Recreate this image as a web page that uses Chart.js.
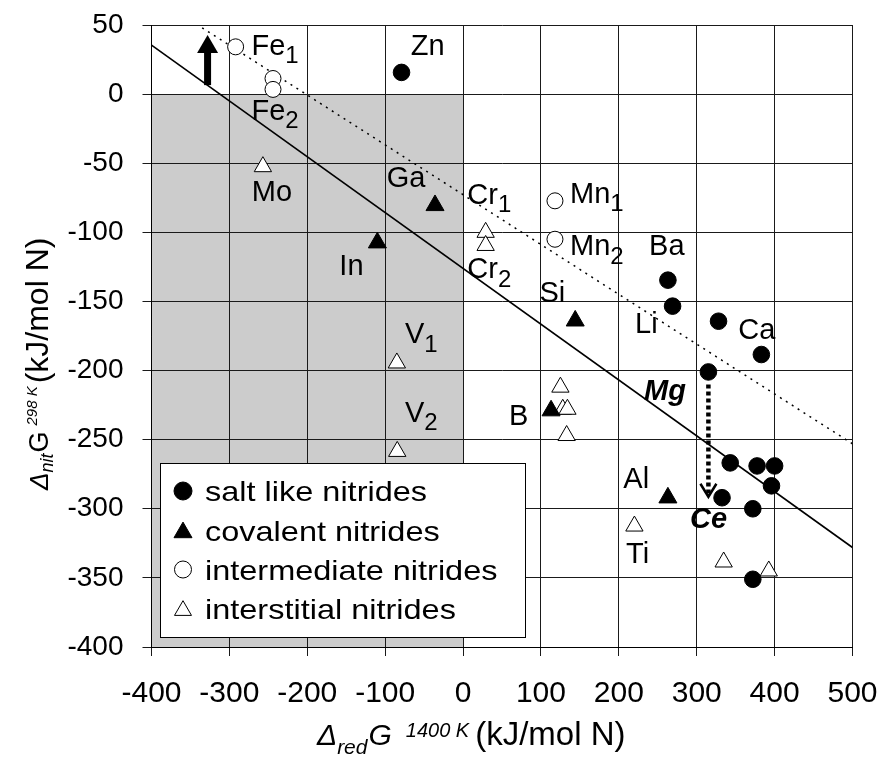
<!DOCTYPE html>
<html><head><meta charset="utf-8">
<script src="https://cdn.jsdelivr.net/npm/chart.js@4.4.1/dist/chart.umd.min.js"></script>
<style>html,body{margin:0;padding:0;background:#fff;}#wrap{width:883px;height:757px;}</style>
</head><body><div id="wrap"><canvas id="c" width="883" height="757"></canvas></div>
<script>
// ---------- data ----------
const xTicks = [-400, -300, -200, -100, 0, 100, 200, 300, 400, 500];
const yTicks = [50, 0, -50, -100, -150, -200, -250, -300, -350, -400];

const saltX = [-79, 263, 269, 328, 383, 315, 343, 377.5, 400, 396, 332.5, 372, 372];
const saltY = [15.7, -134.6, -153.4, -164.3, -188.4, -201, -266.8, -269, -269, -283.4, -292, -300, -351];

const covalentX = [-36, -110, 144, 113, 263];
const covalentY = [-80.5, -107.5, -164, -229, -292];

const intermediateX = [-292, -244, -244, 118, 118];
const intermediateY = [34.2, 11.3, 3.4, -77.2, -105];

const interstitialX = [-257, 29, 29, -85, -84.5, 125, 128, 134, 133, 220, 334.6, 392.5];
const interstitialY = [-52.5, -100, -109.5, -194.5, -258.5, -212, -228, -228, -247, -312.5, -338.5, -345];

const solidLineX = [-400, 500];
const solidLineY = [35.5, -328];
const dottedLineX = [-335, 500];
const dottedLineY = [48, -253];

const shadeBox = { x0: -400, x1: 0, y0: -400, y1: 0 };
const arrowUp = { x: -328, y0: 6.5, y1: 42.7 };
const arrowMgCe = { x: 315, y0: -210, y1: -291.3 };

const legendLabels = ['salt like nitrides', 'covalent nitrides', 'intermediate nitrides', 'interstitial nitrides'];

const pointLabels = [
  { t: 'Fe', s: '1', x: -271.6, y: 28.3 },
  { t: 'Fe', s: '2', x: -271.6, y: -18.7 },
  { t: 'Zn', x: -67.2, y: 28.3 },
  { t: 'Mo', x: -271.3, y: -77.1 },
  { t: 'Ga', x: -98, y: -67 },
  { t: 'In', x: -158.8, y: -130.9 },
  { t: 'Cr', s: '1', x: 5.5, y: -79.5 },
  { t: 'Cr', s: '2', x: 5.5, y: -133.3 },
  { t: 'Mn', s: '1', x: 137.4, y: -78.6 },
  { t: 'Mn', s: '2', x: 137.4, y: -116.4 },
  { t: 'Ba', x: 238.8, y: -116.4 },
  { t: 'Si', x: 98, y: -150.2 },
  { t: 'Li', x: 220.8, y: -173.1 },
  { t: 'Ca', x: 353.4, y: -177.4 },
  { t: 'Mg', x: 232.4, y: -221.3, b: true },
  { t: 'B', x: 59, y: -239.4 },
  { t: 'Al', x: 205.8, y: -285.2 },
  { t: 'Ti', x: 209.3, y: -339.5 },
  { t: 'Ce', x: 291.4, y: -314.1, b: true },
  { t: 'V', s: '1', x: -74.5, y: -180.3 },
  { t: 'V', s: '2', x: -74.5, y: -237 }
];

// ---------- helpers ----------
const FAM = "'Liberation Sans', Arial, Helvetica, sans-serif";
const f = (size, style) => (style ? style + ' ' : '') + size + 'px ' + FAM;
const pts = (xs, ys) => xs.map((x, i) => ({ x: x, y: ys[i] }));

function drawMarker(ctx, style, x, y, r, fill) {
  ctx.beginPath();
  if (style === 'circle') {
    ctx.arc(x, y, r, 0, Math.PI * 2);
  } else {
    for (let k = 0; k < 3; k++) {
      const a = k * 2 * Math.PI / 3;
      const px = x + Math.sin(a) * r, py = y - Math.cos(a) * r;
      if (k === 0) ctx.moveTo(px, py); else ctx.lineTo(px, py);
    }
    ctx.closePath();
  }
  ctx.fillStyle = fill;
  ctx.fill();
  ctx.lineWidth = 1;
  ctx.strokeStyle = '#000';
  ctx.stroke();
}

const decor = {
  id: 'decor',
  beforeDraw(chart) {
    const { ctx, scales: { x, y } } = chart;
    const X0 = x.getPixelForValue(shadeBox.x0), X1 = x.getPixelForValue(shadeBox.x1);
    const Y0 = y.getPixelForValue(shadeBox.y1), Y1 = y.getPixelForValue(shadeBox.y0);
    ctx.save();
    ctx.fillStyle = '#cccccc';
    ctx.fillRect(X0, Y0, X1 - X0, Y1 - Y0);
    ctx.restore();
  },
  afterDatasetsDraw(chart) {
    const { ctx, scales: { x, y } } = chart;
    ctx.save();
    // arrow up
    let ax = x.getPixelForValue(arrowUp.x);
    let ay0 = y.getPixelForValue(arrowUp.y0), ay1 = y.getPixelForValue(arrowUp.y1);
    ctx.fillStyle = '#000';
    ctx.fillRect(ax - 3.5, ay1 + 16, 7, ay0 - ay1 - 16);
    ctx.beginPath();
    ctx.moveTo(ax, ay1);
    ctx.lineTo(ax + 10.5, ay1 + 18);
    ctx.lineTo(ax - 10.5, ay1 + 18);
    ctx.closePath();
    ctx.fill();
    // dotted arrow Mg -> Ce
    ax = x.getPixelForValue(arrowMgCe.x);
    ay0 = y.getPixelForValue(arrowMgCe.y0); ay1 = y.getPixelForValue(arrowMgCe.y1);
    ctx.strokeStyle = '#000';
    ctx.lineWidth = 4.5;
    ctx.setLineDash([4, 3]);
    ctx.beginPath();
    ctx.moveTo(ax, ay0);
    ctx.lineTo(ax, ay1 - 3);
    ctx.stroke();
    ctx.setLineDash([]);
    ctx.lineWidth = 2.5;
    ctx.beginPath();
    ctx.moveTo(ax - 8, ay1 - 13);
    ctx.lineTo(ax, ay1);
    ctx.lineTo(ax + 8, ay1 - 13);
    ctx.stroke();
    // labels
    ctx.fillStyle = '#000';
    ctx.textAlign = 'left';
    ctx.textBaseline = 'alphabetic';
    pointLabels.forEach(l => {
      const px = x.getPixelForValue(l.x), py = y.getPixelForValue(l.y);
      ctx.font = l.b ? f(29, 'italic bold') : f(29);
      ctx.fillText(l.t, px, py);
      if (l.s) {
        const w = ctx.measureText(l.t).width;
        ctx.font = f(24);
        ctx.fillText(l.s, px + w, py + 8.5);
      }
    });
    ctx.restore();
  },
  afterDraw(chart) {
    const { ctx } = chart;
    ctx.save();
    // legend box
    const L = 160, T = 463, R = 526, B = 638;
    ctx.fillStyle = '#fff';
    ctx.fillRect(L, T, R - L, B - T);
    ctx.strokeStyle = '#000';
    ctx.lineWidth = 1;
    ctx.strokeRect(L + 0.5, T + 0.5, R - L - 1, B - T - 1);
    const rows = [491, 530.5, 569.5, 608.5];
    const styles = [['circle', 9, '#000'], ['triangle', 10.4, '#000'], ['circle', 8.5, '#fff'], ['triangle', 9.8, '#fff']];
    rows.forEach((ry, i) => {
      const st = styles[i];
      drawMarker(ctx, st[0], 183, st[0] === 'triangle' ? ry + 2 : ry, st[1], st[2]);
      ctx.save();
      ctx.translate(205, ry + 10);
      ctx.scale(1.16, 1);
      ctx.fillStyle = '#000';
      ctx.font = f(28);
      ctx.textBaseline = 'alphabetic';
      ctx.fillText(legendLabels[i], 0, 0);
      ctx.restore();
    });
    // x axis title
    ctx.fillStyle = '#000';
    ctx.textBaseline = 'alphabetic';
    let cx = 317, by = 745;
    const piece = (txt, font, dy, gap) => {
      ctx.font = font;
      ctx.fillText(txt, cx, by + dy);
      cx += ctx.measureText(txt).width + (gap || 0);
    };
    piece('\u0394', f(30, 'italic'), 0, 0);
    piece('red', f(21, 'italic'), 9, 1);
    piece('G', f(30, 'italic'), 0, 14);
    piece('1400 K', f(20, 'italic'), -8, 6);
    piece('(kJ/mol N)', f(33), 0, 0);
    // y axis title
    ctx.save();
    ctx.translate(48, 490);
    ctx.rotate(-Math.PI / 2);
    cx = 0; by = 0;
    piece('\u0394', f(26, 'italic'), 0, 0);
    piece('nit', f(18, 'italic'), 5, 1);
    piece('G', f(27), 0, 6);
    piece('298 K', f(15, 'italic'), -11, 3);
    piece('(kJ/mol N)', f(32), 0, 0);
    ctx.restore();
    ctx.restore();
  }
};

const gridCol = '#1a1a1a';
new Chart(document.getElementById('c'), {
  type: 'scatter',
  data: {
    datasets: [
      { label: legendLabels[0], data: pts(saltX, saltY), pointStyle: 'circle', pointRadius: 8.3, backgroundColor: '#000', borderColor: '#000', borderWidth: 1 },
      { label: legendLabels[1], data: pts(covalentX, covalentY), pointStyle: 'triangle', pointRadius: 10.4, backgroundColor: '#000', borderColor: '#000', borderWidth: 1 },
      { label: legendLabels[2], data: pts(intermediateX, intermediateY), pointStyle: 'circle', pointRadius: 8, backgroundColor: '#fff', borderColor: '#000', borderWidth: 1 },
      { label: legendLabels[3], data: pts(interstitialX, interstitialY), pointStyle: 'triangle', pointRadius: 10, backgroundColor: '#fff', borderColor: '#000', borderWidth: 1 },
      { type: 'line', label: 'fit', data: pts(solidLineX, solidLineY), showLine: true, pointRadius: 0, borderColor: '#000', borderWidth: 1.6, fill: false },
      { type: 'line', label: 'limit', data: pts(dottedLineX, dottedLineY), showLine: true, pointRadius: 0, borderColor: '#000', borderWidth: 1.5, borderDash: [2, 5], fill: false }
    ]
  },
  options: {
    responsive: false,
    animation: false,
    events: [],
    layout: { padding: { top: 25, right: 30.5, left: 0, bottom: 0 } },
    plugins: { legend: { display: false }, tooltip: { enabled: false } },
    scales: {
      x: {
        type: 'linear', min: -400, max: 500,
        afterBuildTicks: s => { s.ticks = xTicks.map(v => ({ value: v })); },
        afterFit: s => { s.height = 110; s.paddingLeft = 0; s.paddingRight = 0; s.paddingTop = 0; s.paddingBottom = 0; },
        ticks: { color: '#000', font: { family: FAM, size: 30 }, padding: 20, maxRotation: 0, autoSkip: false },
        grid: { color: gridCol, lineWidth: 1, tickLength: 9, drawTicks: true },
        border: { color: '#000', width: 1 }
      },
      y: {
        type: 'linear', min: -400, max: 50,
        afterBuildTicks: s => { s.ticks = yTicks.map(v => ({ value: v })); },
        afterFit: s => { s.width = 151.5; s.paddingLeft = 0; s.paddingRight = 0; s.paddingTop = 0; s.paddingBottom = 0; },
        ticks: { color: '#000', font: { family: FAM, size: 28 }, padding: 19, autoSkip: false },
        grid: { color: gridCol, lineWidth: 1, tickLength: 9, drawTicks: true },
        border: { color: '#000', width: 1 }
      }
    }
  },
  plugins: [decor]
});
</script></body></html>
